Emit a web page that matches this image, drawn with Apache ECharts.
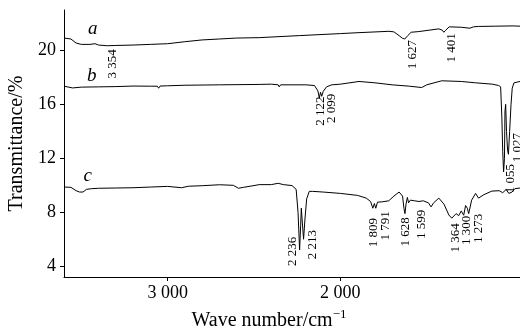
<!DOCTYPE html>
<html>
<head>
<meta charset="utf-8">
<script src="https://cdn.jsdelivr.net/npm/echarts@6/dist/echarts.min.js"></script>
<style>
html, body { margin: 0; padding: 0; background: #fff; }
#ftir { width: 520px; height: 330px; }
</style>
</head>
<body>
<div id="ftir"></div>
<script>
// 曲线数据 [波数, 透过率]
var curveA = [
    [3600, 20.92], [3560, 20.85], [3530, 20.55], [3500, 20.45], [3450, 20.45], [3420, 20.5],
    [3400, 20.4], [3350, 20.35], [3300, 20.37], [3200, 20.4], [3100, 20.45], [3000, 20.5],
    [2900, 20.65], [2800, 20.78], [2700, 20.85], [2600, 20.92], [2470, 20.95], [2238, 21.1],
    [2000, 21.25], [1892, 21.32], [1719, 21.42], [1690, 21.38], [1660, 21.1], [1640, 20.9],
    [1627, 20.85], [1610, 21.1], [1590, 21.35], [1546, 21.4], [1430, 21.6], [1410, 21.5],
    [1401, 21.35], [1390, 21.5], [1370, 21.75], [1300, 21.72], [1250, 21.65], [1230, 21.75],
    [1200, 21.78], [1100, 21.8], [1000, 21.82], [960, 21.8]
];
var curveB = [
    [3600, 17.35], [3550, 17.22], [3500, 17.28], [3400, 17.3], [3300, 17.32], [3200, 17.36],
    [3100, 17.35], [3060, 17.35], [3052, 17.2], [3044, 17.36], [3000, 17.38], [2900, 17.42],
    [2700, 17.45], [2470, 17.48], [2400, 17.5], [2360, 17.45], [2354, 17.3], [2346, 17.45],
    [2200, 17.45], [2150, 17.4], [2130, 17.0], [2122, 16.47], [2115, 16.9], [2108, 16.6],
    [2099, 16.97], [2080, 17.3], [2050, 17.45], [2000, 17.5], [1892, 17.7], [1800, 17.6],
    [1700, 17.45], [1600, 17.35], [1529, 17.25], [1500, 17.45], [1413, 17.75], [1300, 17.7],
    [1217, 17.6], [1120, 17.5], [1084, 17.4], [1072, 17.3], [1065, 15.0], [1060, 12.5],
    [1055, 11.0], [1050, 12.0], [1047, 15.5], [1043, 16.0], [1038, 14.0], [1032, 12.6],
    [1027, 12.3], [1020, 14.0], [1012, 16.0], [1005, 17.2], [995, 17.6], [960, 17.7]
];
var curveC = [
    [3600, 9.87], [3560, 9.85], [3530, 9.6], [3510, 9.5], [3490, 9.5], [3470, 9.7],
    [3440, 9.75], [3400, 9.78], [3300, 9.8], [3200, 9.82], [3100, 9.87], [3000, 9.92],
    [2920, 9.82], [2880, 9.93], [2800, 9.97], [2700, 10.04], [2620, 10.0], [2590, 9.78],
    [2560, 9.85], [2500, 9.98], [2470, 10.05], [2400, 10.05], [2360, 10.15], [2330, 10.05],
    [2280, 9.98], [2256, 9.7], [2245, 8.0], [2236, 5.2], [2230, 7.0], [2226, 8.3],
    [2220, 7.2], [2213, 6.0], [2205, 7.5], [2195, 9.0], [2180, 9.55], [2160, 9.55],
    [2100, 9.5], [2000, 9.4], [1900, 9.25], [1850, 9.05], [1825, 8.8], [1812, 8.3],
    [1803, 8.65], [1795, 8.3], [1785, 8.75], [1760, 8.77], [1720, 8.85], [1690, 9.2],
    [1660, 9.5], [1650, 9.57], [1640, 9.2], [1632, 8.3], [1626, 7.9], [1620, 8.6],
    [1612, 9.1], [1605, 8.7], [1595, 8.9], [1570, 8.85], [1545, 8.8], [1520, 8.85],
    [1490, 8.7], [1475, 8.4], [1460, 8.7], [1430, 9.05], [1400, 8.6], [1372, 7.8],
    [1355, 7.56], [1330, 7.9], [1315, 7.75], [1300, 8.1], [1286, 7.78], [1275, 8.5],
    [1265, 8.3], [1257, 7.9], [1240, 8.9], [1217, 9.4], [1200, 9.05], [1170, 9.3],
    [1123, 9.57], [1080, 9.6], [1060, 9.45], [1040, 9.7], [1025, 9.4], [1006, 9.5],
    [990, 9.75], [960, 9.8]
];

// 峰位标注 [波数, 标注中心透过率, 文本]
var peaksA = [[3320, 19.0, "3 354"], [1580, 19.7, "1 627"], [1356, 20.2, "1 401"]];
var peaksB = [[2117, 15.5, "2 122"], [2048, 15.7, "2 099"], [1015, 10.5, "1 055"], [975, 12.8, "1 027"]];
var peaksC = [
    [2279, 5.1, "2 236"], [2163, 5.6, "2 213"], [1806, 6.5, "1 809"], [1736, 7.0, "1 791"],
    [1621, 6.55, "1 628"], [1529, 7.1, "1 599"], [1332, 6.1, "1 364"], [1269, 6.65, "1 300"],
    [1200, 6.8, "1 273"]
];
// 曲线名称位置
var curveNames = [["a", 3433, 21.56], ["b", 3439, 18.14], ["c", 3462, 10.69]];

var xTicks = [2000, 3000];
var yTicks = [4, 8, 12, 16, 20];

var serif = "Liberation Serif";

function peakMarks(list) {
    return list.map(function(p) {
        return { name: p[2], coord: [p[0], p[1]] };
    });
}

function makeSeries(data, peaks, idx) {
    var n = curveNames[idx];
    var marks = peakMarks(peaks);
    marks.push({
        name: n[0], coord: [n[1], n[2]],
        label: { rotate: 0, fontSize: 19, fontStyle: "italic" }
    });
    return {
        type: "line",
        data: data,
        showSymbol: false,
        symbol: "none",
        lineStyle: { color: "#000", width: 1 },
        markPoint: {
            symbol: "circle",
            symbolSize: 0,
            itemStyle: { color: "transparent" },
            label: {
                show: true,
                position: "inside",
                rotate: 90,
                formatter: "{b}",
                color: "#000",
                fontFamily: serif,
                fontSize: 13
            },
            data: marks
        }
    };
}

var chart = echarts.init(document.getElementById("ftir"));

chart.setOption({
    animation: false,
    backgroundColor: "#fff",
    grid: { left: 64, right: 0, top: 10, bottom: 53, outerBoundsMode: "none", containLabel: false },
    xAxis: {
        type: "value",
        inverse: true,
        min: 960,
        max: 3600,
        name: "Wave number/cm{sup|−1}",
        nameLocation: "middle",
        nameGap: 31,
        nameTextStyle: {
            color: "#000", fontFamily: serif, fontSize: 20, padding: [0, 46, 0, 0],
            rich: { sup: { fontSize: 13, verticalAlign: "top", padding: [0, 0, 12, 0], fontFamily: serif, color: "#000" } }
        },
        splitLine: { show: false },
        axisLine: { lineStyle: { color: "#000", width: 1 } },
        axisTick: { customValues: xTicks, length: 4, lineStyle: { color: "#000" } },
        axisLabel: {
            customValues: xTicks,
            color: "#000", fontFamily: serif, fontSize: 18, margin: 7,
            formatter: function(v) { return String(v).replace(/\B(?=(\d{3})+$)/, " "); }
        }
    },
    yAxis: {
        type: "value",
        min: 3.2,
        max: 23,
        name: "Transmittance/%",
        nameLocation: "middle",
        nameGap: 27,
        nameTextStyle: { color: "#000", fontFamily: serif, fontSize: 20 },
        splitLine: { show: false },
        axisLine: { show: true, lineStyle: { color: "#000", width: 1 } },
        axisTick: { show: true, customValues: yTicks, length: 4, lineStyle: { color: "#000" } },
        axisLabel: { customValues: yTicks, color: "#000", fontFamily: serif, fontSize: 18, margin: 8 }
    },
    series: [
        makeSeries(curveA, peaksA, 0),
        makeSeries(curveB, peaksB, 1),
        makeSeries(curveC, peaksC, 2)
    ]
});
</script>
</body>
</html>
